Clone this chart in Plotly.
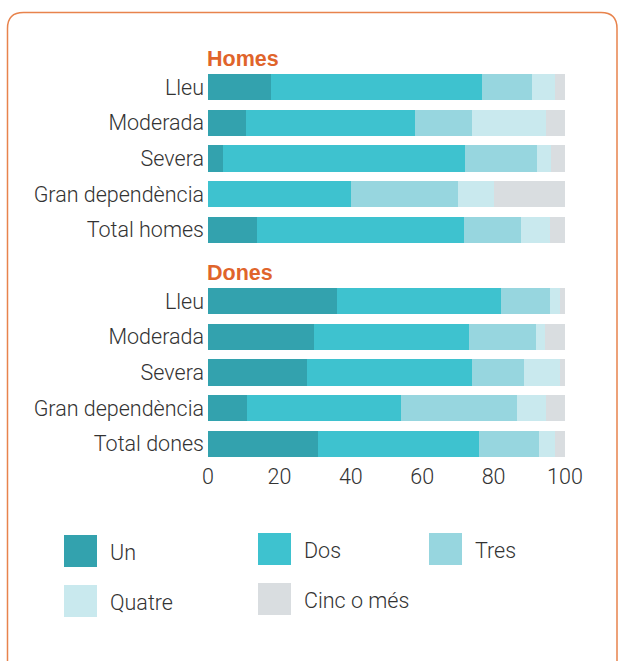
import plotly.graph_objects as go

W, H = 618, 661

categories_homes = ["Lleu", "Moderada", "Severa", "Gran dependència", "Total homes"]
categories_dones = ["Lleu", "Moderada", "Severa", "Gran dependència", "Total dones"]
series_names = ["Un", "Dos", "Tres", "Quatre", "Cinc o més"]

# percentages
homes_un     = [17.6, 10.6,  4.2,  0.0, 13.7]
homes_dos    = [59.1, 47.4, 67.8, 40.1, 58.0]
homes_tres   = [14.1, 15.9, 20.2, 29.9, 16.0]
homes_quatre = [ 6.5, 20.7,  3.9, 10.1,  8.1]
homes_cinc   = [ 2.7,  5.4,  3.9, 19.9,  4.2]

dones_un     = [36.1, 29.7, 27.7, 10.9, 30.8]
dones_dos    = [46.0, 43.4, 46.2, 43.2, 45.1]
dones_tres   = [13.7, 18.8, 14.6, 32.5, 16.8]
dones_quatre = [ 2.8,  2.5, 10.1,  8.1,  4.6]
dones_cinc   = [ 1.4,  5.6,  1.4,  5.3,  2.7]

x_ticks = [0, 20, 40, 60, 80, 100]

colors = ["#33a2ae", "#3ec2cf", "#97d6df", "#c9e9ee", "#d9dde0"]
orange = "#e0642b"
text_col = "#333333"
font_family = "Roboto, Liberation Sans, Arial, sans-serif"
fs = 21.5
light = dict(size=fs, color=text_col, family=font_family, weight=300)

homes = [homes_un, homes_dos, homes_tres, homes_quatre, homes_cinc]
dones = [dones_un, dones_dos, dones_tres, dones_quatre, dones_cinc]


def px(x):
    return x / W


def py(y):
    return 1 - y / H


fig = go.Figure()
for name, col, hv, dv in zip(series_names, colors, homes, dones):
    fig.add_trace(go.Bar(y=categories_homes, x=hv, name=name, orientation="h",
                         marker=dict(color=col, line=dict(width=0)),
                         xaxis="x", yaxis="y", showlegend=False))
    fig.add_trace(go.Bar(y=categories_dones, x=dv, name=name, orientation="h",
                         marker=dict(color=col, line=dict(width=0)),
                         xaxis="x2", yaxis="y2", showlegend=False))

xdom = [px(208), px(565)]
yaxis_common = dict(autorange="reversed", showgrid=False, zeroline=False, showline=False,
                    ticks="", ticklabelstandoff=3, automargin=False, tickfont=light)

fig.update_layout(
    width=W, height=H, autosize=False,
    margin=dict(l=0, r=0, t=0, b=0, pad=0),
    paper_bgcolor="white", plot_bgcolor="white",
    barmode="stack", bargap=0.27,
    font=dict(family=font_family, color=text_col),
    xaxis=dict(domain=xdom, anchor="y", range=[0, 100], showticklabels=False,
               showgrid=False, zeroline=False, showline=False, automargin=False),
    yaxis=dict(domain=[py(247.75), py(69.25)], anchor="x", **yaxis_common),
    xaxis2=dict(domain=xdom, anchor="y2", range=[0, 100], tickvals=x_ticks,
                showgrid=False, zeroline=False, showline=False, ticks="", automargin=False,
                tickfont=light),
    yaxis2=dict(domain=[py(461.75), py(283.25)], anchor="x2", **yaxis_common),
)

# section titles
for label, yy in [("Homes", 59), ("Dones", 273)]:
    fig.add_annotation(text="<b>%s</b>" % label, x=px(205), y=py(yy), xref="paper", yref="paper",
                       xanchor="left", yanchor="middle", showarrow=False,
                       font=dict(size=fs, color=orange, family="Liberation Sans, Arial, sans-serif"))

# legend drawn by hand with big swatches
leg_pos = [(64, 535), (258, 533), (429, 533), (64, 585), (258, 583)]
for name, col, (lx, ly) in zip(series_names, colors, leg_pos):
    fig.add_shape(type="rect", xref="paper", yref="paper",
                  x0=px(lx), x1=px(lx + 33), y0=py(ly + 32), y1=py(ly),
                  fillcolor=col, line=dict(width=0))
    fig.add_annotation(text=name, x=px(lx + 44), y=py(ly + 17), xref="paper", yref="paper",
                       xanchor="left", yanchor="middle", showarrow=False, font=light)

# rounded orange frame
x0, y0, x1, y1, r = 7.5, 12.5, 617, 680, 16
path = ("M %f,%f L %f,%f Q %f,%f %f,%f L %f,%f Q %f,%f %f,%f L %f,%f L %f,%f Z" % (
    px(x0), py(y1), px(x0), py(y0 + r), px(x0), py(y0), px(x0 + r), py(y0),
    px(x1 - r), py(y0), px(x1), py(y0), px(x1), py(y0 + r), px(x1), py(y1), px(x0), py(y1)))
fig.add_shape(type="path", path=path, xref="paper", yref="paper",
              line=dict(color="#e8834c", width=1.5), fillcolor="rgba(0,0,0,0)")

fig.write_html("out.html", config={"responsive": False, "displayModeBar": False},
               post_script="document.body.style.margin='0';")
